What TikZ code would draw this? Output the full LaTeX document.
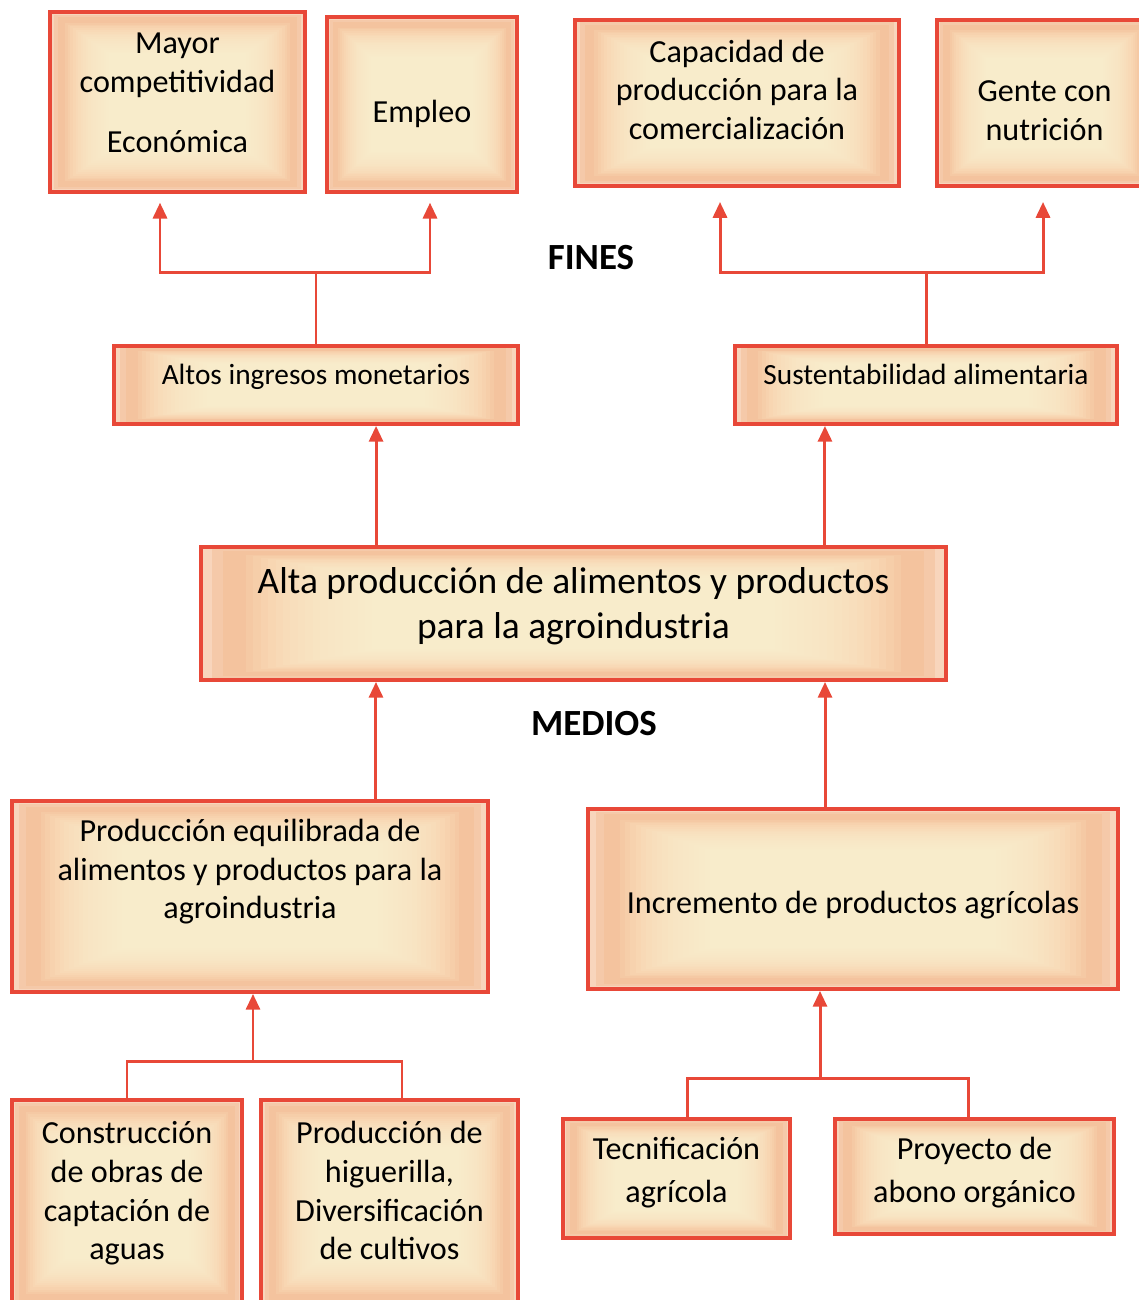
\documentclass[tikz,border=0pt]{standalone}
\usepackage{fontspec}
\setmainfont{Carlito}
\usetikzlibrary{arrows.meta,calc,positioning}
\definecolor{edge}{HTML}{E84838}
\definecolor{cream}{HTML}{FFF3D2}
\definecolor{peach}{HTML}{F4BF98}
\colorlet{paler}{peach!65!white}
% text lines, raised by #1
\newcommand{\lines}[2][0pt]{\raisebox{#1}[0pt][0pt]{\begin{tabular}{@{}c@{}}#2\end{tabular}}}
\tikzset{>=Latex,
  glow/.style={path picture={
    \foreach \f/\c/\o in {0.97/peach/0.5,0.94/peach/0.6} \fill[\c,opacity=\o]
      ($(path picture bounding box.center)!\f!(path picture bounding box.north west)$) rectangle
      ($(path picture bounding box.center)!\f!(path picture bounding box.south east)$);
    \foreach \f in {0.88,0.86,...,0.4} \fill[cream,opacity=0.13]
      ($(path picture bounding box.center)!\f!(path picture bounding box.north west)$) rectangle
      ($(path picture bounding box.center)!\f!(path picture bounding box.south east)$);}},
  box/.style={draw=edge,line width=2.2pt,fill=paler,glow,inner sep=0pt,
    font=\fontsize{18.3}{22}\selectfont},
  bigbox/.style={box,font=\fontsize{21.3}{25.5}\selectfont},
  smallbox/.style={box,font=\fontsize{16.7}{20}\selectfont},
  wide/.style={box,font=\fontsize{18.3}{24.4}\selectfont},
  link/.style={draw=edge,line width=1.7pt},
  up/.style={link,-{Triangle[width=8pt,length=9pt]}},
  heading/.style={font=\fontsize{21}{24}\selectfont\bfseries}}
\begin{document}
\begin{tikzpicture}[x=0.02cm,y=-0.02cm]
\useasboundingbox (0,0) rectangle (1138,1300);
% fines
\node[box,minimum width=5.1cm,minimum height=3.6cm] (mayor) at (177.5,102)
  {\lines[-0.4pt]{Mayor\\competitividad\\[12pt]Económica}};
\node[box,minimum width=3.8cm,minimum height=3.5cm] (empleo) at (422,104.5) {\lines[-10.3pt]{Empleo}};
\node[box,minimum width=6.48cm,minimum height=3.32cm] (capac) at (737,103)
  {\lines[1.4pt]{Capacidad de\\producción para la\\comercialización}};
\node[box,minimum width=4.3cm,minimum height=3.32cm] (gente) at (1044.5,103)
  {\lines[-10.2pt]{Gente con\\nutrición}};
\node[heading] (fines) at (591,258) {FINES};
\node[smallbox,minimum width=8.08cm,minimum height=1.56cm] (altos) at (316,385)
  {\lines[-0.3pt]{Altos ingresos monetarios}};
\node[smallbox,minimum width=7.64cm,minimum height=1.56cm] (sust) at (926,385)
  {\lines[-0.3pt]{Sustentabilidad alimentaria}};
% centro
\node[bigbox,minimum width=14.9cm,minimum height=2.66cm] (alta) at (573.5,613.5)
  {\lines[-1.3pt]{Alta producción de alimentos y productos\\para la agroindustria}};
\node[heading] (medios) at (594,724) {MEDIOS};
% medios
\node[box,minimum width=9.52cm,minimum height=3.82cm] (prod) at (250,896.5)
  {\lines[9.4pt]{Producción equilibrada de\\alimentos y productos para la\\agroindustria}};
\node[box,minimum width=10.6cm,minimum height=3.6cm] (incr) at (853,899)
  {\lines[-8.2pt]{Incremento de productos agrícolas}};
\node[box,minimum width=4.6cm,minimum height=4.12cm] (constr) at (127,1203)
  {\lines[0.8pt]{Construcción\\de obras de\\captación de\\aguas}};
\node[box,minimum width=5.14cm,minimum height=4.12cm] (hig) at (389.5,1203)
  {\lines[0.8pt]{Producción de\\higuerilla,\\Diversificación\\de cultivos}};
\node[wide,minimum width=4.54cm,minimum height=2.38cm] (tec) at (676.5,1178.5)
  {\lines[-0.9pt]{Tecnificación\\agrícola}};
\node[wide,minimum width=5.58cm,minimum height=2.3cm] (proy) at (974.5,1176.5)
  {\lines[-2.1pt]{Proyecto de\\abono orgánico}};
% conectores arriba
\draw[link] (altos.north) -- ++(0,-72) coordinate (fl);
\draw[up,shorten >=5pt] (fl) -| ([xshift=-0.35cm]mayor.south);
\draw[up,shorten >=5pt] (fl) -| ([xshift=0.16cm]empleo.south);
\draw[link] (sust.north) -- ++(0,-72) coordinate (fr);
\draw[up,shorten >=8pt] (fr) -| ([xshift=-0.34cm]capac.south);
\draw[up,shorten >=8pt] (fr) -| ([xshift=-0.03cm]gente.south);
\draw[up] ([xshift=-3.95cm]alta.north) -- ([xshift=-3.95cm]alta.north |- altos.south);
\draw[up] ([xshift=5.03cm]alta.north) -- ([xshift=5.03cm]alta.north |- sust.south);
\draw[up] ([xshift=2.52cm]prod.north) -- ([xshift=2.52cm]prod.north |- alta.south);
\draw[up] ([xshift=-0.56cm]incr.north) -- ([xshift=-0.56cm]incr.north |- alta.south);
% conectores abajo
\coordinate (ml) at (253,1061);
\draw[up] (ml) -- (ml |- prod.south);
\draw[link] (constr.north) |- (ml);
\draw[link] ([xshift=0.25cm]hig.north) |- (ml);
\coordinate (mr) at (820,1078);
\draw[up] (mr) -- (mr |- incr.south);
\draw[link] ([xshift=0.21cm]tec.north) |- (mr);
\draw[link] ([xshift=-0.13cm]proy.north) |- (mr);
\end{tikzpicture}
\end{document}
